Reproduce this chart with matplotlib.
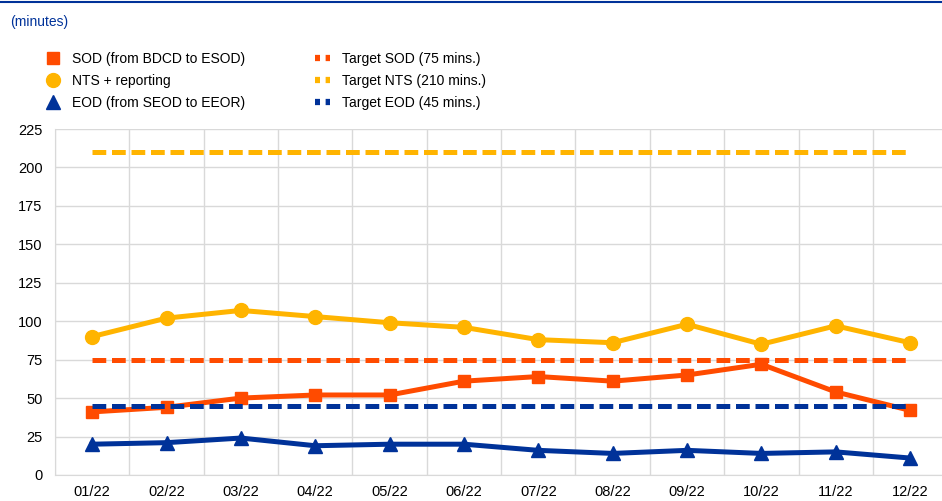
import matplotlib.pyplot as plt
from matplotlib.lines import Line2D

plt.rcParams['font.family'] = ['Liberation Sans', 'DejaVu Sans']

# ==============================================================
# DATA
# ==============================================================

meses = ['01/22', '02/22', '03/22', '04/22', '05/22', '06/22',
         '07/22', '08/22', '09/22', '10/22', '11/22', '12/22']

sod = [41, 44, 50, 52, 52, 61, 64, 61, 65, 72, 54, 42]
nts = [90, 102, 107, 103, 99, 96, 88, 86, 98, 85, 97, 86]
eod = [20, 21, 24, 19, 20, 20, 16, 14, 16, 14, 15, 11]

alvo_sod = 75
alvo_nts = 210
alvo_eod = 45

laranja = '#FF4B00'
amarelo = '#FFB400'
azul = '#003299'

# ==============================================================
# GRÁFICO
# ==============================================================

fig = plt.figure(figsize=(9.42, 5.01), dpi=100)
ax = fig.add_axes([0.0584, 0.052, 0.9416, 0.6905])

x = range(len(meses))
tracejado = (0, (2.75, 1.15))

ax.plot(x, nts, color=amarelo, lw=3.6, marker='o', ms=10)
ax.plot(x, sod, color=laranja, lw=3.6, marker='s', ms=9)
ax.plot(x, eod, color=azul, lw=3.6, marker='^', ms=10)

ax.plot(x, [alvo_nts] * len(meses), color=amarelo, lw=3.6, ls=tracejado)
ax.plot(x, [alvo_sod] * len(meses), color=laranja, lw=3.6, ls=tracejado)
ax.plot(x, [alvo_eod] * len(meses), color=azul, lw=3.6, ls=tracejado)

ax.set_xticks(list(x))
ax.set_xticklabels(meses)
ax.set_xticks([i + 0.5 for i in range(-1, 12)], minor=True)
ax.set_xlim(-0.5, 11.43)
ax.set_ylim(0, 225)
ax.set_yticks(range(0, 226, 25))

ax.grid(True, axis='y', color='#d9d9d9', lw=1)
ax.grid(True, axis='x', which='minor', color='#d9d9d9', lw=1)
ax.set_axisbelow(True)
for lado in ['top', 'right']:
    ax.spines[lado].set_visible(False)
for lado in ['left', 'bottom']:
    ax.spines[lado].set_color('#d9d9d9')
ax.tick_params(axis='both', which='both', length=0, labelsize=10.5, colors='#000000')
ax.tick_params(axis='y', pad=9)
ax.tick_params(axis='x', pad=7.5)

# linha do topo e unidade
fig.add_artist(Line2D([0, 1], [0.997, 0.997], transform=fig.transFigure,
                      color=azul, lw=1.5))
fig.text(0.011, 0.956, '(minutes)', color=azul, fontsize=10, va='center')

# legenda
alvo_leg = (0, (0.8, 0.9))
handles = [
    Line2D([], [], ls='none', marker='s', ms=9, color=laranja),
    Line2D([], [], ls='none', marker='o', ms=10, color=amarelo),
    Line2D([], [], ls='none', marker='^', ms=10, color=azul),
    Line2D([], [], color=laranja, lw=4.5, ls=alvo_leg),
    Line2D([], [], color=amarelo, lw=4.5, ls=alvo_leg),
    Line2D([], [], color=azul, lw=4.5, ls=alvo_leg),
]
rotulos = ['SOD (from BDCD to ESOD)', 'NTS + reporting', 'EOD (from SEOD to EEOR)',
           'Target SOD (75 mins.)', 'Target NTS (210 mins.)', 'Target EOD (45 mins.)']

fig.legend(handles, rotulos, ncol=2, loc='upper left', bbox_to_anchor=(0.048, 0.897),
           frameon=False, fontsize=10, handlelength=1.1, handletextpad=0.85,
           columnspacing=5.0, labelspacing=0.6, borderpad=0, borderaxespad=0)

fig.savefig('out.png', dpi=100)
